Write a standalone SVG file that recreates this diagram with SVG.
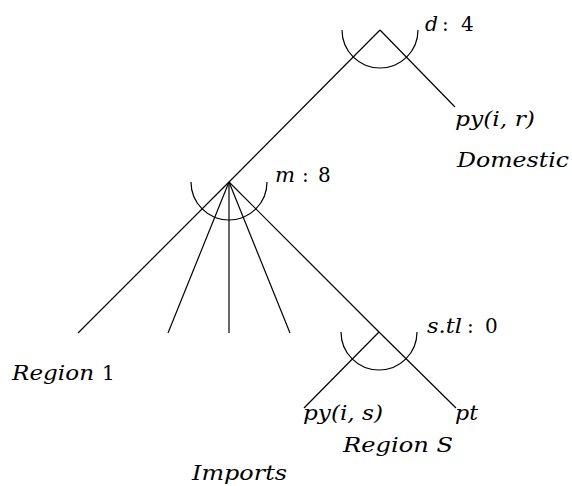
<svg xmlns="http://www.w3.org/2000/svg" width="572" height="486" viewBox="0 0 572 486">
<style>
.ln{stroke:#000;stroke-width:1.2;fill:none}
.t{font-family:"DejaVu Serif",serif;font-size:20px;font-style:italic;fill:#000}
.up{font-style:normal}
</style>
<rect width="572" height="486" fill="#fff"/>
<g id="connectors">
<path class="ln" d="M380 30 L229 182"/>
<path class="ln" d="M380 30 L455 107"/>
<path class="ln" d="M229 182 L78 333"/>
<path class="ln" d="M229 182 L168 333"/>
<path class="ln" d="M229 182 L229 333"/>
<path class="ln" d="M229 182 L290 333"/>
<path class="ln" d="M229 182 L379 332"/>
<path class="ln" d="M379 332 L456 408"/>
<path class="ln" d="M379 332 L304 408"/>
</g>
<g id="node-d">
<path class="ln" d="M342 30 A38 38 0 0 0 418 30"/>
<text class="t" x="425" y="31" textLength="13" lengthAdjust="spacingAndGlyphs">d</text><text class="t up" x="442" y="31">:</text><text class="t up" x="461" y="31">4</text>
</g>
<g id="node-domestic">
<text class="t" x="455" y="126" textLength="80" lengthAdjust="spacingAndGlyphs">py(i, r)</text>
<text class="t" x="457" y="167" textLength="112" lengthAdjust="spacingAndGlyphs">Domestic</text>
</g>
<g id="node-m">
<path class="ln" d="M191 182 A38 38 0 0 0 267 182"/>
<text class="t" x="275" y="182" textLength="20" lengthAdjust="spacingAndGlyphs">m</text><text class="t up" x="302" y="182">:</text><text class="t up" x="318" y="182">8</text>
</g>
<g id="node-region1">
<text class="t" x="12" y="380" textLength="82" lengthAdjust="spacingAndGlyphs">Region</text><text class="t up" x="102" y="380">1</text>
</g>
<g id="node-s">
<path class="ln" d="M341 332 A38 38 0 0 0 417 332"/>
<text class="t" x="427" y="333" textLength="35" lengthAdjust="spacingAndGlyphs">s.tl</text><text class="t up" x="467" y="333">:</text><text class="t up" x="485" y="333">0</text>
</g>
<g id="node-regionS">
<text class="t" x="303" y="420" textLength="80" lengthAdjust="spacingAndGlyphs">py(i, s)</text>
<text class="t" x="455" y="420" textLength="23" lengthAdjust="spacingAndGlyphs">pt</text>
<text class="t" x="343" y="452" textLength="110" lengthAdjust="spacingAndGlyphs">Region S</text>
</g>
<g id="label-imports">
<text class="t" x="192" y="480" textLength="95" lengthAdjust="spacingAndGlyphs">Imports</text>
</g>
</svg>
